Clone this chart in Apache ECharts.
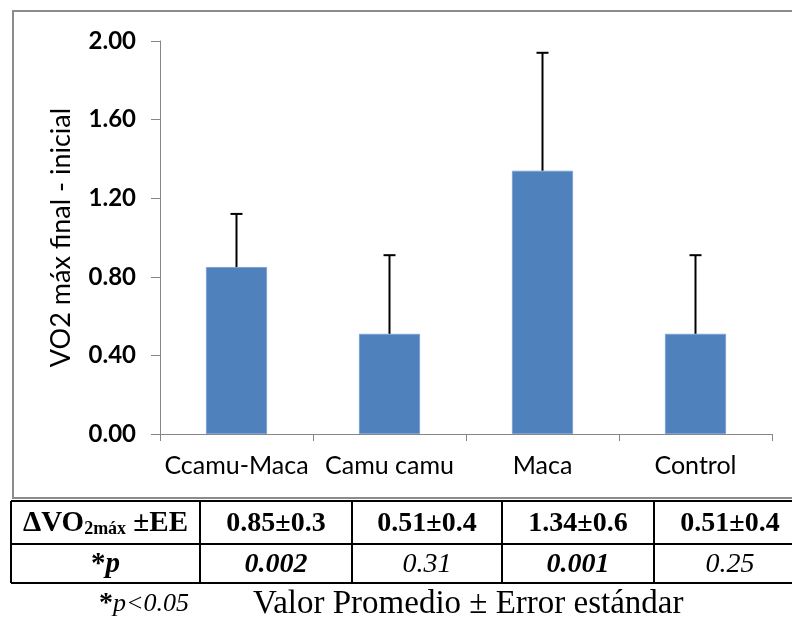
<!DOCTYPE html>
<html>
<head>
<meta charset="utf-8">
<script src="https://cdn.jsdelivr.net/npm/echarts@6/dist/echarts.min.js"></script>
<style>
html,body{margin:0;padding:0;background:#fff;}
#chart{width:792px;height:619px;}
</style>
</head>
<body>
<div id="chart"></div>
<script>
// ---- data ----
const categories = ['Ccamu-Maca', 'Camu camu', 'Maca', 'Control'];
const means = [0.85, 0.51, 1.34, 0.51];
const errors = [0.27, 0.40, 0.60, 0.40];
const yAxisName = 'VO2 máx final - inicial';
const tableMeanLabels = ['0.85±0.3', '0.51±0.4', '1.34±0.6', '0.51±0.4'];
const pValues = ['0.002', '0.31', '0.001', '0.25'];
const pBold = [true, false, true, false];
const footNote = 'Valor Promedio ± Error estándar';

// ---- layout ----
const SANS = 'Lato, "Open Sans", sans-serif';
const SERIF = '"Liberation Serif", "Times New Roman", serif';
const tableTop = 501, row1 = 544, row2 = 583;
const colEdges = [11, 200, 352, 502, 654, 806];

const chart = echarts.init(document.getElementById('chart'), null, {renderer: 'canvas'});

const graphics = [];
// outer chart border
graphics.push({
  type: 'rect', z: 0, silent: true,
  shape: {x: 13, y: 11, width: 800, height: 487},
  style: {fill: 'none', stroke: '#8c8c8c', lineWidth: 2}
});
// table lines
[tableTop, row1, row2].forEach(y => graphics.push({
  type: 'line', silent: true,
  shape: {x1: colEdges[0], y1: y, x2: 800, y2: y},
  style: {stroke: '#000', lineWidth: 2}
}));
colEdges.forEach(x => graphics.push({
  type: 'line', silent: true,
  shape: {x1: x, y1: tableTop, x2: x, y2: row2},
  style: {stroke: '#000', lineWidth: 2}
}));
const colCenter = i => (colEdges[i] + colEdges[i + 1]) / 2;
const r1y = (tableTop + row1) / 2 + 1;
const r2y = (row1 + row2) / 2 + 1;
// header cell with subscript
graphics.push({
  type: 'text', silent: true,
  x: colCenter(0), y: r1y,
  style: {
    text: '{m|ΔVO}{s|2máx}{m| ±EE}',
    align: 'center', verticalAlign: 'middle',
    rich: {
      m: {fontFamily: SERIF, fontWeight: 'bold', fontSize: 29, lineHeight: 30, fill: '#000', verticalAlign: 'middle'},
      s: {fontFamily: SERIF, fontWeight: 'bold', fontSize: 18, lineHeight: 18, fill: '#000', verticalAlign: 'bottom'}
    }
  }
});
graphics.push({
  type: 'text', silent: true,
  x: colCenter(0), y: r2y,
  style: {
    text: '{a|*}{p|p}',
    align: 'center', verticalAlign: 'middle',
    rich: {
      a: {fontFamily: SERIF, fontWeight: 'bold', fontSize: 29, fill: '#000'},
      p: {fontFamily: SERIF, fontWeight: 'bold', fontStyle: 'italic', fontSize: 29, fill: '#000'}
    }
  }
});
tableMeanLabels.forEach((t, i) => graphics.push({
  type: 'text', silent: true,
  x: colCenter(i + 1), y: r1y,
  style: {text: t, align: 'center', verticalAlign: 'middle',
    font: 'bold 28px ' + SERIF, fill: '#000'}
}));
pValues.forEach((t, i) => graphics.push({
  type: 'text', silent: true,
  x: colCenter(i + 1), y: r2y,
  style: {text: t, align: 'center', verticalAlign: 'middle',
    font: (pBold[i] ? 'italic bold ' : 'italic ') + '28px ' + SERIF, fill: '#000'}
}));
// footer
graphics.push({
  type: 'text', silent: true,
  x: 99, y: 604,
  style: {
    text: '{a|*}{p|p<0.05}',
    align: 'left', verticalAlign: 'middle',
    rich: {
      a: {fontFamily: SERIF, fontWeight: 'bold', fontSize: 28, fill: '#000'},
      p: {fontFamily: SERIF, fontStyle: 'italic', fontSize: 26, fill: '#000'}
    }
  }
});
graphics.push({
  type: 'text', silent: true,
  x: 253, y: 604,
  style: {text: footNote, align: 'left', verticalAlign: 'middle',
    font: '33px ' + SERIF, fill: '#000'}
});

const option = {
  animation: false,
  backgroundColor: '#fff',
  grid: {left: 160, right: 20, top: 41, bottom: 185, containLabel: false},
  xAxis: {
    type: 'category',
    data: categories,
    axisLine: {show: true, lineStyle: {color: '#868686', width: 1}},
    axisTick: {show: true, length: 7, alignWithLabel: false, lineStyle: {color: '#868686'}},
    axisLabel: {color: '#000', fontFamily: SANS, fontSize: 25, margin: 19, interval: 0},
    splitLine: {show: false}
  },
  yAxis: {
    type: 'value',
    min: 0, max: 2, interval: 0.4,
    name: yAxisName,
    nameLocation: 'middle',
    nameGap: 85,
    nameRotate: 90,
    nameTextStyle: {color: '#000', fontFamily: SANS, fontSize: 27},
    axisLine: {show: true, lineStyle: {color: '#868686', width: 1}},
    axisTick: {show: true, length: 9, inside: false, lineStyle: {color: '#868686'}},
    axisLabel: {color: '#000', fontFamily: SANS, fontWeight: 'bold', fontSize: 24, margin: 24,
      formatter: v => v.toFixed(2)},
    splitLine: {show: false}
  },
  series: [
    {
      type: 'bar',
      data: means,
      barWidth: '40%',
      itemStyle: {color: '#4f81bd', borderColor: '#7da1d2', borderWidth: 1},
      z: 2
    },
    {
      type: 'custom',
      data: categories.map((c, i) => [i, means[i], means[i] + errors[i]]),
      encode: {x: 0, y: [1, 2]},
      z: 5,
      renderItem: function (params, api) {
        const x = api.value(0);
        const p0 = api.coord([x, api.value(1)]);
        const p1 = api.coord([x, api.value(2)]);
        const hw = 6;
        return {
          type: 'group',
          children: [
            {type: 'line', shape: {x1: p0[0], y1: p0[1], x2: p1[0], y2: p1[1]}, style: {stroke: '#000', lineWidth: 2}},
            {type: 'line', shape: {x1: p1[0] - hw, y1: p1[1], x2: p1[0] + hw, y2: p1[1]}, style: {stroke: '#000', lineWidth: 2}}
          ]
        };
      }
    }
  ],
  graphic: graphics
};
chart.setOption(option);
</script>
</body>
</html>
